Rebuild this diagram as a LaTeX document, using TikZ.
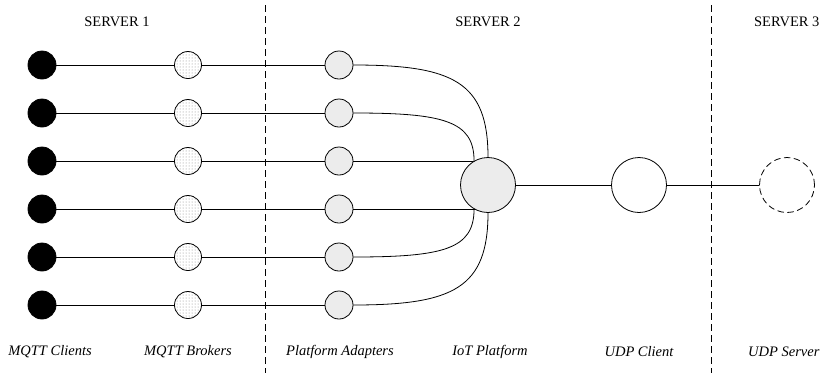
\documentclass[tikz,border=0pt]{standalone}
\usepackage{fontspec}
\setmainfont{Liberation Serif}
\usetikzlibrary{patterns,backgrounds}

\begin{document}
\begin{tikzpicture}[x=1pt, y=-1pt, line cap=round, line join=round]

% ---------------- styles ----------------
\tikzset{
  link/.style={line width=0.8pt},
  sep/.style={dash pattern=on 7pt off 4pt, line width=0.7pt, line cap=butt},
  client/.style={circle, draw, fill=black, minimum size=28pt, inner sep=0pt, line width=0.8pt},
  broker/.style={circle, draw, pattern=dots, pattern color=gray, minimum size=27pt, inner sep=0pt, line width=0.8pt},
  adapter/.style={circle, draw, fill=gray!15, minimum size=28pt, inner sep=0pt, line width=0.8pt},
  hub/.style={circle, draw, minimum size=55pt, inner sep=0pt, line width=0.8pt},
  label/.style={font=\fontsize{14.5}{16}\selectfont\itshape},
  server/.style={font=\fontsize{14.5}{16}\selectfont}
}

% ---------------- frame ----------------
\useasboundingbox (0,0) rectangle (823,373);

% ---------------- server borders ----------------
\coordinate (s1top) at (265,5);
\coordinate (s1bot) at (265,373);
\coordinate (s2top) at (711,5);
\coordinate (s2bot) at (711,373);
\draw[sep] (s1top) -- (s1bot);
\draw[sep] (s2top) -- (s2bot);

\node[server] (srv1) at (117,22) {SERVER 1};
\node[server] (srv2) at (488,22) {SERVER 2};
\node[server, anchor=east] (srv3) at (823,22) {SERVER 3};

% ---------------- central nodes ----------------
\node[hub, fill=gray!15] (iot) at (488,185) {};
\node[hub] (udpc) at (639,185) {};
\node[hub, dashed, dash pattern=on 6pt off 4pt] (udps) at (787,185) {};

% ---------------- rows ----------------
\foreach \i/\y in {1/65,2/113,3/161,4/209,5/257,6/305}{
  \node[client] (c\i) at (42,\y) {};
  \node[broker] (b\i) at (188,\y) {};
  \node[adapter] (a\i) at (339,\y) {};
  \draw[link] (c\i) -- (b\i);
  \draw[link] (b\i) -- (a\i);
}

% adapters into the platform (y grows downwards)
\draw[link] (a1.east) .. controls +(100,0) and +(0,-75) .. (iot.north);
\draw[link] (a2.east) .. controls +(90,0) and +(0,-40) .. (iot.120);
\begin{pgfonlayer}{background}
  \draw[link] (a3) -- (a3 -| iot.center);
  \draw[link] (a4) -- (a4 -| iot.center);
\end{pgfonlayer}
\draw[link] (a5.east) .. controls +(90,0) and +(0,40) .. (iot.240);
\draw[link] (a6.east) .. controls +(100,0) and +(0,75) .. (iot.south);

% platform to UDP
\draw[link] (iot) -- (udpc);
\draw[link] (udpc) -- (udps);

% ---------------- labels ----------------
\node[label] (lclients) at (50,352) {MQTT Clients};
\node[label] (lbrokers) at (188,352) {MQTT Brokers};
\node[label] (ladapters) at (340,352) {Platform Adapters};
\node[label] (liot) at (490,352) {IoT Platform};
\node[label] (ludpc) at (639,352) {UDP Client};
\node[label, anchor=east] (ludps) at (823,352) {UDP Server};

\end{tikzpicture}
\end{document}
